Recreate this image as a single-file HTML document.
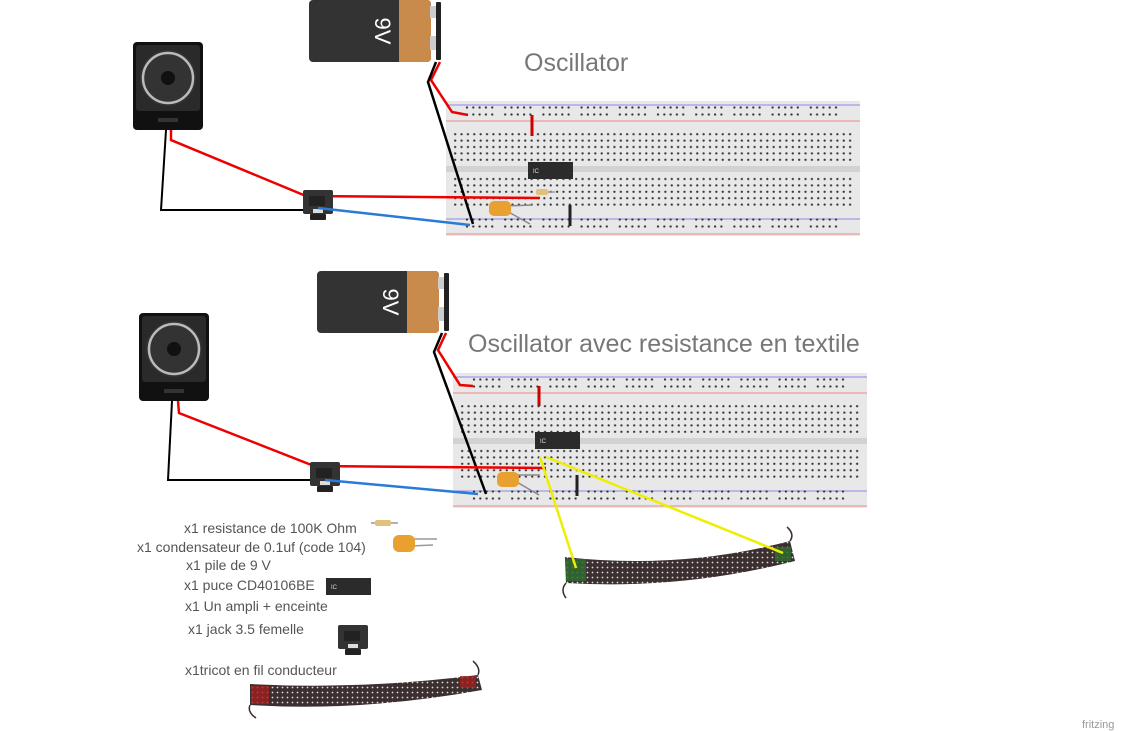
<!DOCTYPE html>
<html><head><meta charset="utf-8"><style>
html,body{margin:0;padding:0;background:#fff;width:1124px;height:731px;overflow:hidden}
svg{display:block}
text{font-family:"Liberation Sans",sans-serif}
</style></head><body>
<svg width="1124" height="731" viewBox="0 0 1124 731" xmlns="http://www.w3.org/2000/svg">
<defs>
<pattern id="pm" x="6" y="30" width="6.37" height="6.4" patternUnits="userSpaceOnUse"><circle cx="3.18" cy="3.2" r="1.15" fill="#333"/></pattern>
<pattern id="pr" x="18" y="3" width="38.2" height="7" patternUnits="userSpaceOnUse">
<circle cx="3" cy="3.5" r="1.15" fill="#333"/><circle cx="9.3" cy="3.5" r="1.15" fill="#333"/><circle cx="15.6" cy="3.5" r="1.15" fill="#333"/><circle cx="21.9" cy="3.5" r="1.15" fill="#333"/><circle cx="28.2" cy="3.5" r="1.15" fill="#333"/></pattern>
<pattern id="pt" width="5" height="5" patternUnits="userSpaceOnUse"><rect width="5" height="5" fill="#3b2f30"/><circle cx="2.5" cy="2.5" r="0.9" fill="#ddd"/></pattern>
<g id="bb">
<rect x="0" y="0" width="414" height="135" fill="#e8e8e8"/>
<rect x="0" y="65" width="414" height="6" fill="#d2d2d2"/>
<line x1="0" y1="4" x2="414" y2="4" stroke="#8a8ae8" stroke-width="1"/>
<line x1="0" y1="20" x2="414" y2="20" stroke="#e88" stroke-width="1"/>
<line x1="0" y1="118" x2="414" y2="118" stroke="#8a8ae8" stroke-width="1"/>
<line x1="0" y1="133" x2="414" y2="133" stroke="#e88" stroke-width="1"/>
<rect x="18" y="3" width="382" height="14" fill="url(#pr)"/>
<rect x="18" y="117" width="382" height="14" fill="url(#pr)"/>
<rect x="6" y="30" width="400" height="32" fill="url(#pm)"/>
<rect x="6" y="75" width="400" height="32" fill="url(#pm)"/>
</g>
<g id="spk">
<rect x="0" y="0" width="70" height="88" rx="4" fill="#111"/>
<rect x="3" y="3" width="64" height="66" rx="3" fill="#2a2a2a"/>
<circle cx="35" cy="36" r="28" fill="#333"/>
<circle cx="35" cy="36" r="25" fill="none" stroke="#bbb" stroke-width="2.5"/>
<circle cx="35" cy="36" r="7" fill="#111"/>
<rect x="25" y="76" width="20" height="4" fill="#333"/>
</g>
<g id="bat">
<rect x="0" y="0" width="122" height="62" rx="4" fill="#333"/>
<path d="M90 0 H118 a4 4 0 0 1 4 4 V58 a4 4 0 0 1 -4 4 H90 Z" fill="#c98b4c"/>
<rect x="121" y="6" width="6" height="12" fill="#ccc"/><rect x="121" y="36" width="6" height="14" fill="#ccc"/>
<rect x="127" y="2" width="5" height="58" rx="1" fill="#222"/>
<text x="0" y="0" transform="translate(72,31) rotate(90)" font-size="22" fill="#fff" text-anchor="middle" dominant-baseline="middle">9V</text>
</g>
<g id="jack">
<rect x="0" y="0" width="30" height="24" rx="2" fill="#333"/>
<rect x="6" y="6" width="16" height="10" fill="#222"/>
<rect x="7" y="24" width="16" height="6" rx="1" fill="#222"/>
<rect x="10" y="19" width="10" height="4" fill="#ddd"/>
</g>
<g id="ic">
<rect x="0" y="0" width="45" height="17" fill="#2b2b2b"/>
<text x="5" y="11" font-size="6" fill="#ddd">IC</text>
</g>
<g id="cap">
<rect x="0" y="0" width="22" height="15" rx="5" fill="#e8a030"/>
</g>
</defs>

<use href="#bb" x="446" y="101"/>
<use href="#bb" x="453" y="373"/>

<use href="#bat" x="309" y="0"/>
<use href="#spk" x="133" y="42"/>
<polyline points="440,62 431,80 452,112 468,115" fill="none" stroke="#e00" stroke-width="2.5"/>
<polyline points="436,62 428,82 473,224" fill="none" stroke="#000" stroke-width="2.5"/>
<polyline points="171,130 171,140 306,196 540,198" fill="none" stroke="#e00" stroke-width="2.5"/>
<polyline points="166,130 161,210 314,210" fill="none" stroke="#000" stroke-width="2"/>
<use href="#jack" x="303" y="190"/>
<polyline points="318,208 470,225" fill="none" stroke="#2a7ad8" stroke-width="2.5"/>
<line x1="532" y1="115" x2="532" y2="136" stroke="#c00" stroke-width="3"/>
<line x1="570" y1="205" x2="570" y2="226" stroke="#222" stroke-width="3"/>
<use href="#ic" x="528" y="162"/>
<line x1="538" y1="192" x2="555" y2="192" stroke="#999" stroke-width="1.5"/>
<rect x="536" y="189" width="12" height="6" rx="2" fill="#e2c27a"/>
<line x1="505" y1="206" x2="533" y2="205" stroke="#888" stroke-width="1.5"/>
<line x1="505" y1="210" x2="530" y2="224" stroke="#888" stroke-width="1.5"/>
<use href="#cap" x="489" y="201"/>
<text x="524" y="71" font-size="25" fill="#777">Oscillator</text>

<use href="#bat" x="317" y="271"/>
<use href="#spk" x="139" y="313"/>
<polyline points="446,333 438,350 460,385 473,386" fill="none" stroke="#e00" stroke-width="2.5"/>
<polyline points="442,333 434,352 486,494" fill="none" stroke="#000" stroke-width="2.5"/>
<polyline points="178,401 179,413 314,466 546,468" fill="none" stroke="#e00" stroke-width="2.5"/>
<polyline points="172,401 168,480 320,480" fill="none" stroke="#000" stroke-width="2"/>
<use href="#jack" x="310" y="462"/>
<polyline points="325,480 478,494" fill="none" stroke="#2a7ad8" stroke-width="2.5"/>
<line x1="539" y1="386" x2="539" y2="406" stroke="#c00" stroke-width="3"/>
<line x1="577" y1="475" x2="577" y2="496" stroke="#222" stroke-width="3"/>
<use href="#ic" x="535" y="432"/>
<line x1="515" y1="475" x2="540" y2="475" stroke="#888" stroke-width="1.5"/>
<line x1="515" y1="481" x2="539" y2="495" stroke="#888" stroke-width="1.5"/>
<use href="#cap" x="497" y="472"/>
<text x="468" y="352" font-size="25" fill="#777">Oscillator avec resistance en textile</text>

<path d="M565 557 Q680 570 790 541 L795 561 Q680 590 566 583 Z" fill="url(#pt)"/>
<path d="M566 583 Q560 590 566 598 M790 541 Q795 534 787 527" fill="none" stroke="#3b2f30" stroke-width="1.5"/>
<rect x="566" y="559" width="20" height="22" fill="#2f6a2f" opacity="0.85"/>
<rect x="775" y="547" width="16" height="14" fill="#2f6a2f" opacity="0.85"/>
<polyline points="540,457 576,568" stroke="#ee0" stroke-width="2.5" fill="none"/>
<polyline points="546,457 783,553" stroke="#ee0" stroke-width="2.5" fill="none"/>

<g font-size="14" fill="#555">
<text x="184" y="533">x1 resistance de 100K Ohm</text>
<text x="137" y="552">x1 condensateur de 0.1uf (code 104)</text>
<text x="186" y="570">x1 pile de 9 V</text>
<text x="184" y="590">x1 puce CD40106BE</text>
<text x="185" y="611">x1 Un ampli + enceinte</text>
<text x="188" y="634">x1 jack 3.5 femelle</text>
<text x="185" y="675">x1tricot en fil conducteur</text>
</g>
<line x1="371" y1="523" x2="398" y2="523" stroke="#999" stroke-width="1.5"/>
<rect x="375" y="520" width="16" height="6" rx="2" fill="#e2c27a"/>
<line x1="410" y1="539" x2="437" y2="539" stroke="#999" stroke-width="1.5"/>
<line x1="410" y1="546" x2="433" y2="545" stroke="#999" stroke-width="1.5"/>
<rect x="393" y="535" width="22" height="17" rx="6" fill="#e8a030"/>
<use href="#ic" x="326" y="578"/>
<use href="#jack" x="338" y="625"/>
<path d="M250 684 Q360 690 478 675 L482 690 Q360 712 250 705 Z" fill="url(#pt)"/>
<path d="M250 705 Q247 712 256 718 M478 675 Q481 668 473 661" fill="none" stroke="#3b2f30" stroke-width="1.5"/>
<rect x="251" y="686" width="18" height="18" fill="#a01e1e" opacity="0.8"/>
<rect x="460" y="676" width="16" height="12" fill="#a01e1e" opacity="0.8"/>

<text x="1082" y="728" font-size="11" fill="#999">fritzing</text>
</svg>
</body></html>
